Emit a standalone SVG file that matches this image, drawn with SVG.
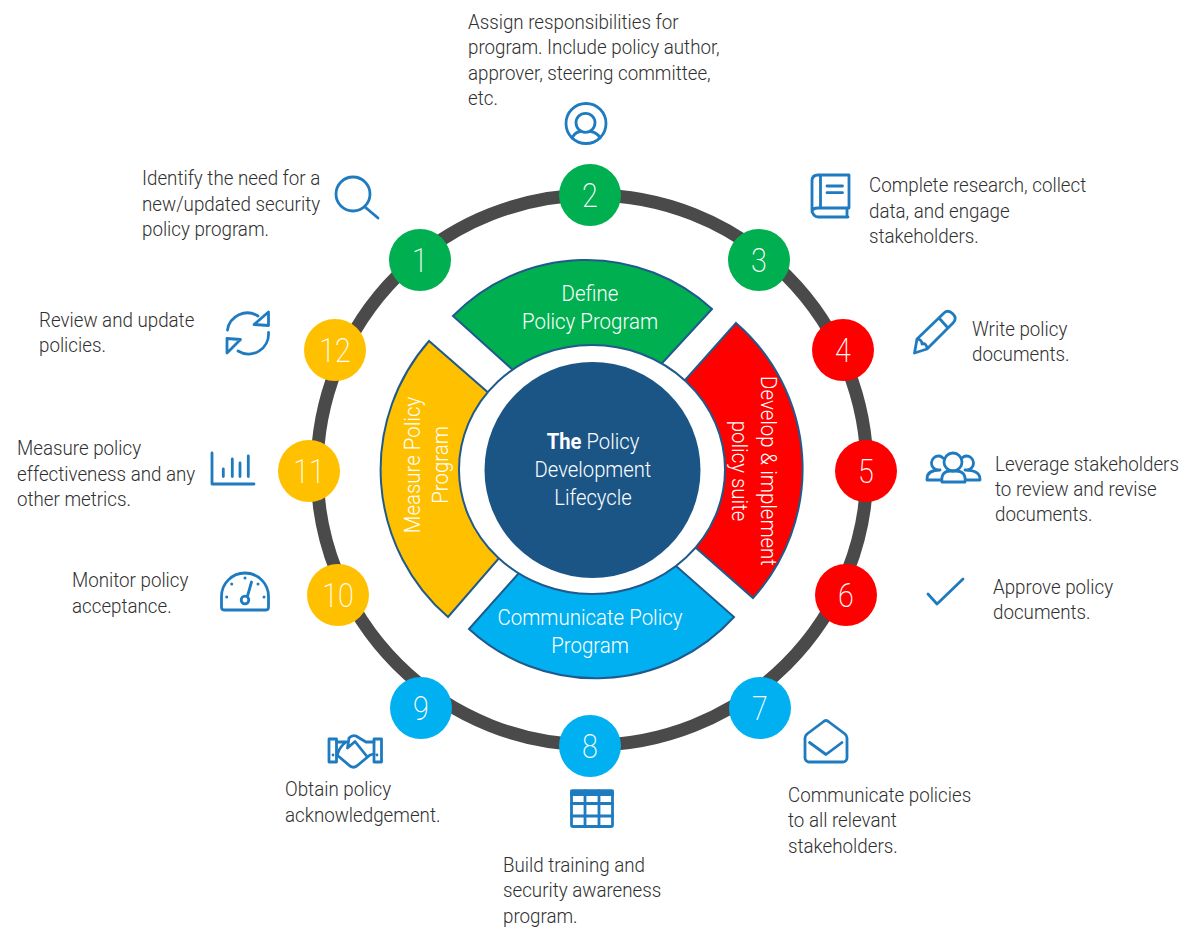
<svg xmlns="http://www.w3.org/2000/svg" width="1200" height="941" viewBox="0 0 1200 941">
<style>
text{font-family:Roboto,"Liberation Sans",sans-serif;font-weight:300}
.t{font-size:20px;fill:#303030}
.n{font-size:33px;fill:#fff;text-anchor:middle;font-weight:200}
.s{font-size:22px;fill:#fff;text-anchor:middle}
.seg{stroke:#1F5A8C;stroke-width:2}
.i{fill:none;stroke:#1F7BC0;stroke-width:2.8;stroke-linecap:round;stroke-linejoin:round}
.g{fill:#00B050}.r{fill:#F00}.y{fill:#FFC000}.b{fill:#00B0F0}
</style>
<rect width="1200" height="941" fill="#fff"/>
<g id="connectors"><circle cx="592" cy="470" r="275" fill="none" stroke="#4A4A4A" stroke-width="13"/></g>
<g id="seg-define"><path class="seg g" d="M453 316A186 186 0 0 1 712 309L653 373L524 380Z"/></g>
<g id="seg-develop"><path class="seg r" d="M736 323A193 193 0 0 1 753 598L687 540L677 389Z"/></g>
<g id="seg-communicate"><path class="seg b" d="M469 629A187 187 0 0 0 734 617L667 558L527 564Z"/></g>
<g id="seg-measure"><path class="seg y" d="M429 341A195 195 0 0 0 448 617L507 549L499 402Z"/></g>
<g id="center"><ellipse cx="592" cy="469.500" rx="133" ry="124.500" fill="#fff" stroke="#1F5A8C" stroke-width="2"/><circle cx="592.500" cy="470" r="108" fill="#1B5586"/>
<g transform="translate(593 0) scale(.92 1)"><text class="s" x="0" y="449"><tspan font-weight="700">The</tspan> Policy</text><text class="s" x="0" y="477">Development</text><text class="s" x="0" y="505.500">Lifecycle</text></g></g>
<g id="seg-labels">
<g transform="translate(590 0) scale(.93 1)"><text class="s" x="0" y="301">Define</text><text class="s" x="0" y="329">Policy Program</text><text class="s" x="0" y="625">Communicate Policy</text><text class="s" x="0" y="653">Program</text></g>
<g transform="translate(761 471) rotate(90) scale(.93 1)"><text class="s" x="0" y="0">Develop &amp; implement</text><text class="s" x="0" y="29">policy suite</text></g>
<g transform="translate(420 465) rotate(-90) scale(.93 1)"><text class="s" x="0" y="0">Measure Policy</text><text class="s" x="0" y="28">Program</text></g>
</g>

<g id="node-1"><circle class="g" cx="420" cy="260" r="31"/><text class="n" transform="translate(420 272) scale(.87 1)">1</text>
<text class="t" transform="translate(142 0) scale(.938 1)"><tspan x="0" y="185">Identify the need for a</tspan><tspan x="0" y="211">new/updated security</tspan><tspan x="0" y="236">policy program.</tspan></text>
<g class="i"><circle cx="353" cy="194" r="17"/><path d="M365 207L378 218"/></g></g>

<g id="node-2"><circle class="g" cx="590" cy="195" r="31"/><text class="n" transform="translate(590 207) scale(.87 1)">2</text>
<text class="t" transform="translate(468 0) scale(.938 1)"><tspan x="0" y="29">Assign responsibilities for</tspan><tspan x="0" y="54">program. Include policy author,</tspan><tspan x="0" y="80">approver, steering committee,</tspan><tspan x="0" y="105">etc.</tspan></text>
<g class="i"><circle cx="586" cy="123.500" r="20"/><circle cx="585.500" cy="122.800" r="9.500"/><path d="M572 138C574 134 577 132 580 131.500M591 131.500C594 132 598 134 600 138"/></g></g>

<g id="node-3"><circle class="g" cx="759" cy="260" r="31"/><text class="n" transform="translate(759 272) scale(.87 1)">3</text>
<text class="t" transform="translate(869 0) scale(.938 1)"><tspan x="0" y="192">Complete research, collect</tspan><tspan x="0" y="218">data, and engage</tspan><tspan x="0" y="243">stakeholders.</tspan></text>
<g class="i"><path d="M849 175H818C814 175 812 177 812 181V210C812 214 815 217 818 217H848M849 175V208H818C814 208 812 209 812 212M820.500 175V208M847 208V217M827 186H842.500M827 192.700H842.500"/></g></g>

<g id="node-4"><circle class="r" cx="843" cy="350" r="31"/><text class="n" transform="translate(843 362) scale(.87 1)">4</text>
<text class="t" transform="translate(972 0) scale(.938 1)"><tspan x="0" y="336">Write policy</tspan><tspan x="0" y="361">documents.</tspan></text>
<g class="i"><path d="M914.500 353L917 339L944 313C947 310 950 311 953 314C956 317 956 320 953 323L927 349ZM939 318L948 328M917 339C920 339 922 341 922 344C925 343 927 345 927 349"/></g></g>

<g id="node-5"><circle class="r" cx="866" cy="471" r="31"/><text class="n" transform="translate(866 483) scale(.87 1)">5</text>
<text class="t" transform="translate(995 0) scale(.938 1)"><tspan x="0" y="471">Leverage stakeholders</tspan><tspan x="0" y="496">to review and revise</tspan><tspan x="0" y="521">documents.</tspan></text>
<g class="i"><circle cx="953" cy="462" r="9"/><path d="M942 482C941 474 945 471 950 471H956C962 471 966 474 965 482Z"/><path d="M938 470A7 7 0 1 1 939 456A7 7 0 0 1 943 458M940 470C933 470 927 472 927 479V480H941"/><path d="M967 470A7 7 0 1 0 966 456A7 7 0 0 0 962 458M965 470C972 470 980 472 980 479V480H966"/></g></g>

<g id="node-6"><circle class="r" cx="846" cy="595" r="31"/><text class="n" transform="translate(846 607) scale(.87 1)">6</text>
<text class="t" transform="translate(993 0) scale(.938 1)"><tspan x="0" y="594">Approve policy</tspan><tspan x="0" y="619">documents.</tspan></text>
<path class="i" d="M928 594L937 604L963 579"/></g>

<g id="node-7"><circle class="b" cx="760" cy="708" r="31"/><text class="n" transform="translate(760 720) scale(.87 1)">7</text>
<text class="t" transform="translate(788 0) scale(.938 1)"><tspan x="0" y="802">Communicate policies</tspan><tspan x="0" y="827">to all relevant</tspan><tspan x="0" y="853">stakeholders.</tspan></text>
<path class="i" d="M805 738C805 736 806 735 807 734L823 722C825 720 827 720 829 722L845 734C846 735 847 736 847 738V758C847 760 845 762 843 762H809C807 762 805 760 805 758ZM809.500 742.500L826 754.500L842 742.500"/></g>

<g id="node-8"><circle class="b" cx="590" cy="746" r="31"/><text class="n" transform="translate(590 758) scale(.87 1)">8</text>
<text class="t" transform="translate(503 0) scale(.938 1)"><tspan x="0" y="872">Build training and</tspan><tspan x="0" y="897">security awareness</tspan><tspan x="0" y="923">program.</tspan></text>
<g class="i"><rect x="571.500" y="791" width="41" height="35.500" rx="1.500"/><rect x="571.500" y="791" width="41" height="3.500" fill="#1F7BC0"/><path d="M571.500 803.500H612.500M571.500 816H612.500M585 791V826M599 791V826"/></g></g>

<g id="node-9"><circle class="b" cx="421" cy="708" r="31"/><text class="n" transform="translate(421 720) scale(.87 1)">9</text>
<text class="t" transform="translate(285 0) scale(.938 1)"><tspan x="0" y="796">Obtain policy</tspan><tspan x="0" y="822">acknowledgement.</tspan></text>
<g class="i"><rect x="329" y="739" width="7.500" height="23"/><rect x="374" y="739" width="7.500" height="23"/><path d="M333 755V755.100M377 755V755.100M336.500 742H346M346 742C338 748 339 752 337 755L350 766C353 768 356 767 358 765L370 755L374 754M374 742H366L356 736C353 735 351 736 349 738L347.500 748L355 741.500L367 756.500"/></g></g>

<g id="node-10"><circle class="y" cx="338" cy="595" r="31"/><text class="n" transform="translate(338 607) scale(.87 1)">10</text>
<text class="t" transform="translate(72 0) scale(.938 1)"><tspan x="0" y="587">Monitor policy</tspan><tspan x="0" y="613">acceptance.</tspan></text>
<g class="i"><path d="M224 610C222 610 221.500 609 221.500 607V596.500A23.500 23.500 0 0 1 268.500 596.500V607C268.500 609 268 610 266 610Z"/><circle cx="245" cy="600" r="3.800"/><path d="M247.500 596L251.500 582"/><path d="M245 578V578.100M231.700 584V584.100M258 584V584.100M226.700 597V597.100M264 597V597.100" stroke-width="3"/></g></g>

<g id="node-11"><circle class="y" cx="309" cy="471" r="31"/><text class="n" transform="translate(309 483) scale(.87 1)">11</text>
<text class="t" transform="translate(17 0) scale(.938 1)"><tspan x="0" y="455">Measure policy</tspan><tspan x="0" y="481">effectiveness and any</tspan><tspan x="0" y="506">other metrics.</tspan></text>
<path class="i" d="M212 453V484H254M223.300 469V476.500M232.300 459V476.500M240 463V476.500M248.300 456V476.500"/></g>

<g id="node-12"><circle class="y" cx="335" cy="350" r="31"/><text class="n" transform="translate(335 362) scale(.87 1)">12</text>
<text class="t" transform="translate(39 0) scale(.938 1)"><tspan x="0" y="327">Review and update</tspan><tspan x="0" y="352">policies.</tspan></text>
<g class="i"><path d="M227.500 330A20 20 0 0 1 258 316M268.500 332.500A20 20 0 0 1 238 351M268.500 312V325.500L254 324.500ZM227 353V338.500L240.500 339.500Z"/></g></g>
</svg>
